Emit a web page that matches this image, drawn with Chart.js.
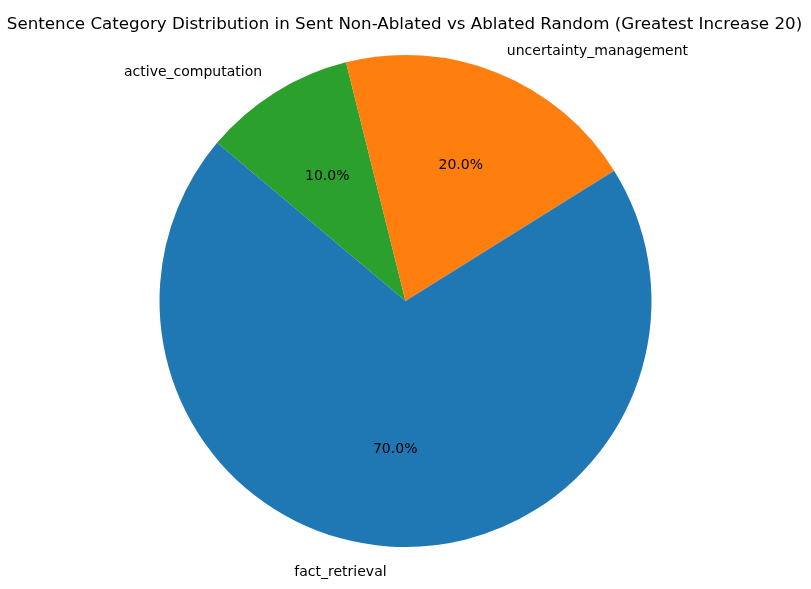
<!DOCTYPE html>
<html>
<head>
<meta charset="utf-8">
<script src="https://cdn.jsdelivr.net/npm/chart.js@4"></script>
<style>
  html, body { margin: 0; padding: 0; background: #ffffff; }
  #wrap { width: 811px; height: 589px; }
</style>
</head>
<body>
<div id="wrap"><canvas id="pieChart" width="811" height="589"></canvas></div>
<script>
// Data (clockwise order, Chart.js draws clockwise from the start angle)
const categories = ['active_computation', 'uncertainty_management', 'fact_retrieval'];
const shares = [10.0, 20.0, 70.0];
const sliceColors = ['#2ca02c', '#ff7f0e', '#1f77b4'];
const chartTitle = 'Sentence Category Distribution in Sent Non-Ablated vs Ablated Random (Greatest Increase 20)';

const FONT = '"DejaVu Sans", sans-serif';

// Labels outside the slices and percentages inside, matplotlib style
const pieLabels = {
    id: 'pieLabels',
    afterDraw(chart) {
        const ctx = chart.ctx;
        const meta = chart.getDatasetMeta(0);
        const total = shares.reduce((a, b) => a + b, 0);
        ctx.save();
        ctx.fillStyle = '#000000';
        ctx.textBaseline = 'middle';

        meta.data.forEach((arc, i) => {
            const p = arc.getProps(['x', 'y', 'startAngle', 'endAngle', 'outerRadius'], true);
            const mid = (p.startAngle + p.endAngle) / 2;
            const cx = Math.cos(mid), cy = Math.sin(mid);

            // category label at 1.1 r
            ctx.font = '14px ' + FONT;
            ctx.textAlign = cx < 0 ? 'right' : 'left';
            ctx.fillText(categories[i], p.x + cx * p.outerRadius * 1.1, p.y + cy * p.outerRadius * 1.1 + 1);

            // percentage at 0.6 r
            ctx.textAlign = 'center';
            ctx.fillText((shares[i] / total * 100).toFixed(1) + '%', p.x + cx * p.outerRadius * 0.6, p.y + cy * p.outerRadius * 0.6 + 1);
        });

        // title
        ctx.font = '16.7px ' + FONT;
        ctx.textAlign = 'center';
        ctx.fillText(chartTitle, chart.width / 2 - 1, 25);
        ctx.restore();
    }
};

new Chart(document.getElementById('pieChart'), {
    type: 'pie',
    data: {
        labels: categories,
        datasets: [{
            data: shares,
            backgroundColor: sliceColors,
            borderWidth: 0
        }]
    },
    options: {
        responsive: false,
        animation: false,
        rotation: -50,
        layout: { padding: { left: 159, right: 159, top: 55, bottom: 42 } },
        plugins: {
            legend: { display: false },
            tooltip: { enabled: false },
            title: { display: false }
        }
    },
    plugins: [pieLabels]
});
</script>
</body>
</html>
